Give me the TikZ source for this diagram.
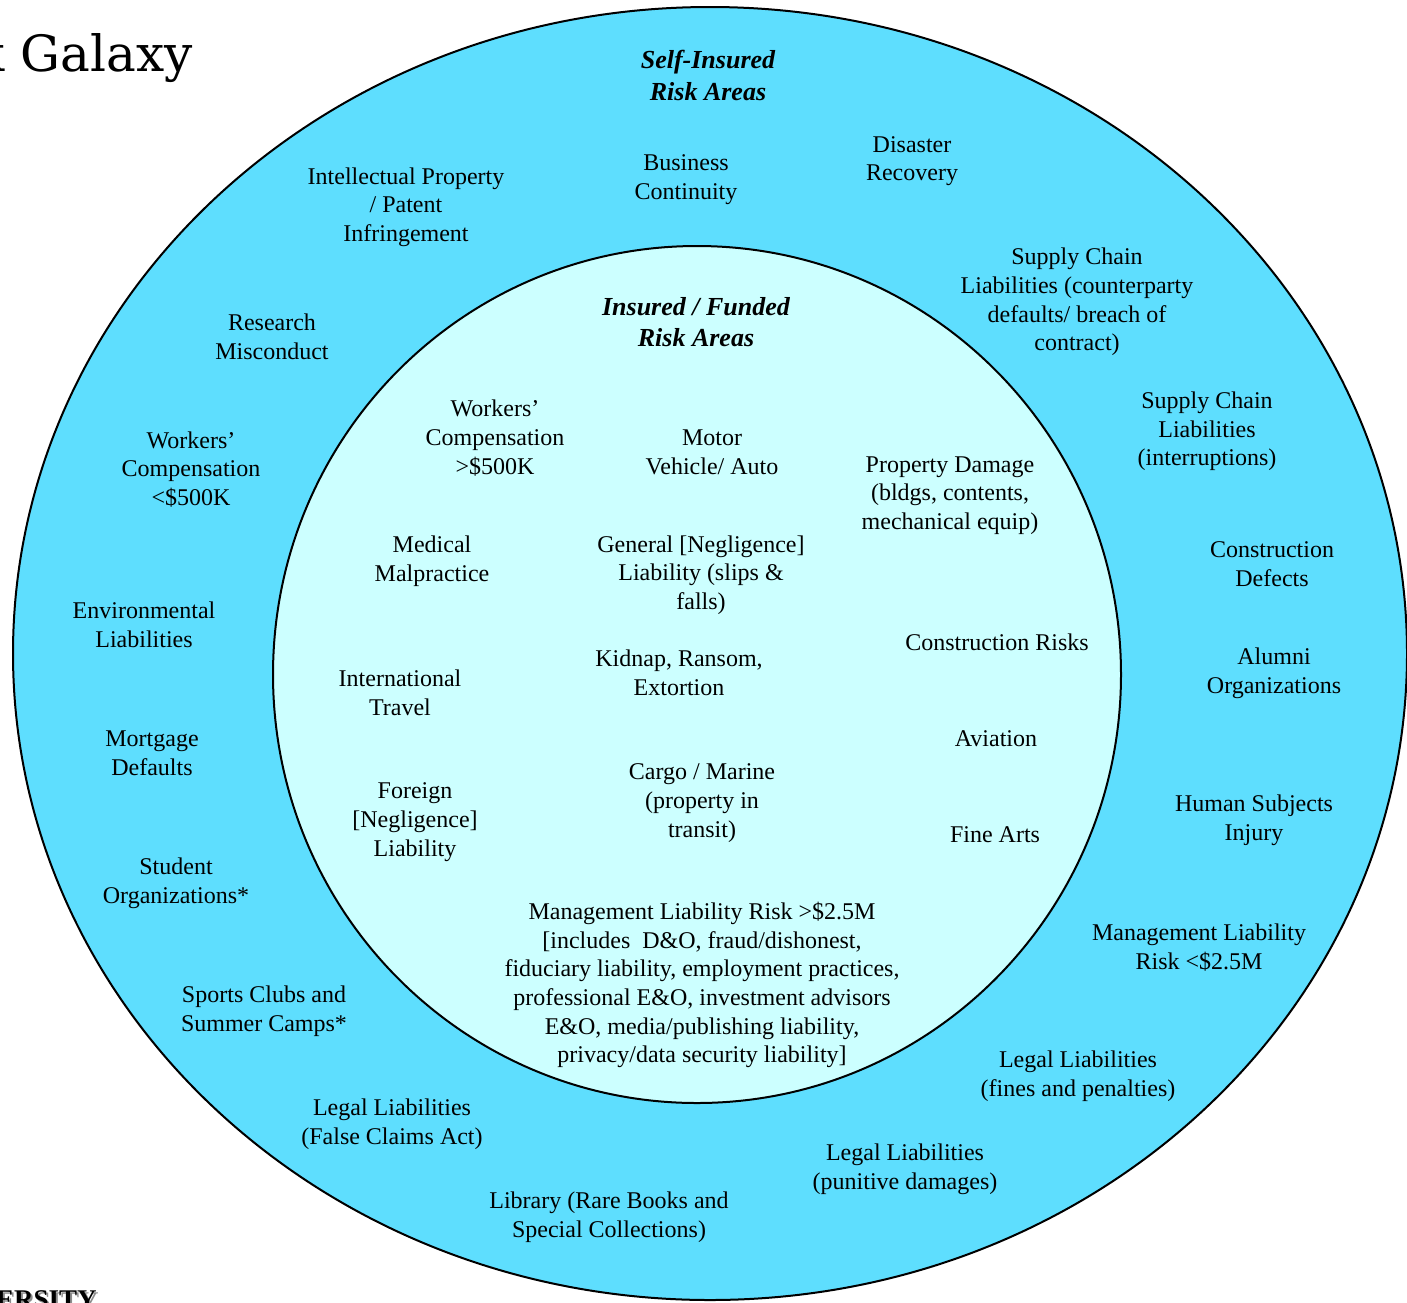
\documentclass[tikz,border=0pt]{standalone}
\usepackage{fontspec}
\setmainfont{Liberation Serif}
\newfontfamily\titlefont{DejaVu Serif}
\definecolor{selfblue}{RGB}{94,222,254}
\definecolor{fundedcyan}{RGB}{204,255,255}
\tikzset{
  risk/.style={align=center, font=\fontsize{12}{14.35}\selectfont, inner sep=0pt, yshift=-1pt},
  heading/.style={align=center, font=\fontsize{13}{15.6}\selectfont\bfseries\itshape, inner sep=0pt},
  ring/.style={draw=black, line width=1pt},
}
\begin{document}
\begin{tikzpicture}[x=0.5pt,y=-0.5pt]
\clip (0,0) rectangle (1407,1302);
\fill[white] (0,0) rectangle (1407,1302);

% the two zones
\draw[ring, fill=selfblue] (710,653.5) ellipse [x radius=348.5pt, y radius=323.25pt];
\draw[ring, fill=fundedcyan] (697,674.5) ellipse [x radius=212pt, y radius=214.25pt];

% slide title and footer, running off the page edge
\node[anchor=base east, inner sep=0pt, font=\titlefont\fontsize{25}{30}\selectfont] (title) at (193,71) {k Galaxy};
\node[anchor=base east, inner sep=0pt, text=black!45, font=\fontsize{13.5}{16}\bfseries\selectfont] (footshadow) at (99,1310) {ERSITY};
\node[anchor=base east, inner sep=0pt, font=\fontsize{13.5}{16}\bfseries\selectfont] (footer) at (97,1308) {ERSITY};

% self-insured ring
\node[heading] (selfhead) at (708,75.5) {Self-Insured\\Risk Areas};
\node[risk] (bizcont) at (686,177.5) {Business\\Continuity};
\node[risk] (disaster) at (912,159) {Disaster\\Recovery};
\node[risk] (ip) at (406,205) {Intellectual Property\\/ Patent\\Infringement};
\node[risk] (supply1) at (1077,300) {Supply Chain\\Liabilities (counterparty\\defaults/ breach of\\contract)};
\node[risk] (research) at (272,335) {Research\\Misconduct};
\node[risk] (supply2) at (1207,429.5) {Supply Chain\\Liabilities\\(interruptions)};
\node[risk] (wcsmall) at (191,467.5) {Workers’\\Compensation\\<\$500K};
\node[risk] (constdef) at (1272,562.5) {Construction\\Defects};
\node[risk] (environ) at (144,623) {Environmental\\Liabilities};
\node[risk] (alumni) at (1274,671) {Alumni\\Organizations};
\node[risk] (mortgage) at (152,751) {Mortgage\\Defaults};
\node[risk] (human) at (1254,818.5) {Human Subjects\\Injury};
\node[risk] (student) at (176,881.5) {Student\\Organizations*};
\node[risk] (mgmtsmall) at (1199,945.5) {Management Liability\\Risk <\$2.5M};
\node[risk] (sports) at (264,1009.5) {Sports Clubs and\\Summer Camps*};
\node[risk] (fines) at (1078,1074.5) {Legal Liabilities\\(fines and penalties)};
\node[risk] (falseclaims) at (392,1122.5) {Legal Liabilities\\(False Claims Act)};
\node[risk] (punitive) at (905,1167) {Legal Liabilities\\(punitive damages)};
\node[risk] (library) at (609,1215) {Library (Rare Books and\\Special Collections)};

% insured / funded core
\node[heading] (fundhead) at (696,322) {Insured / Funded\\Risk Areas};
\node[risk] (wcbig) at (495,436) {Workers’\\Compensation\\>\$500K};
\node[risk] (motor) at (712,450.5) {Motor\\Vehicle/ Auto};
\node[risk] (property) at (950,493.5) {Property Damage\\(bldgs, contents,\\mechanical equip)};
\node[risk] (medical) at (432,559) {Medical\\Malpractice};
\node[risk] (general) at (701,573) {General [Negligence]\\Liability (slips \&\\falls)};
\node[risk] (construct) at (997,640) {Construction Risks};
\node[risk] (kidnap) at (679,671) {Kidnap, Ransom,\\Extortion};
\node[risk] (travel) at (400,690.5) {International\\Travel};
\node[risk] (aviation) at (996,737) {Aviation};
\node[risk] (cargo) at (702,801) {Cargo / Marine\\(property in\\transit)};
\node[risk] (foreign) at (415,820) {Foreign\\{}[Negligence]\\Liability};
\node[risk] (finearts) at (995,833) {Fine Arts};
\node[risk] (mgmtbig) at (702,983) {Management Liability Risk >\$2.5M\\{}[includes\ \ D\&O, fraud/dishonest,\\fiduciary liability, employment practices,\\professional E\&O, investment advisors\\E\&O, media/publishing liability,\\privacy/data security liability]};
\end{tikzpicture}
\end{document}
